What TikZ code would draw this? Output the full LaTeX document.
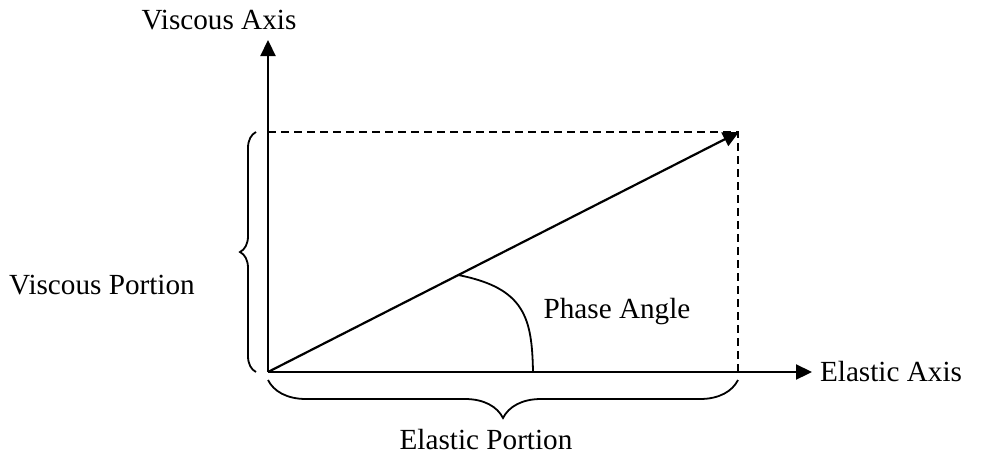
\documentclass[tikz,border=0pt]{standalone}
\usepackage{fontspec}
\setmainfont{Liberation Serif}
\usetikzlibrary{arrows.meta,decorations.pathreplacing}
\begin{document}
\begin{tikzpicture}[x=0.5pt, y=-0.5pt,
        every node/.style={font=\fontsize{14.6}{17}\selectfont, inner sep=0pt},
        axis/.style={line width=1.1pt, -{Triangle[length=8pt, width=7.5pt]}},
        guide/.style={line width=0.8pt, dash pattern=on 4pt off 2.5pt},
        portion/.style={line width=0.9pt, decorate, decoration={brace, amplitude=#1}}
    ]
        \useasboundingbox (0,0) rectangle (984,461);

        \coordinate (o)    at (268,372);
        \coordinate (ytip) at (268,40);
        \coordinate (xtip) at (812,372);
        \coordinate (v)    at (739,132);
        \coordinate (vy)   at (268,132);
        \coordinate (vx)   at (738,372);
        \coordinate (a1)   at (458,275);
        \coordinate (a2)   at (533,372);

        % axes and vector
        \draw[axis] (o) -- (ytip);
        \draw[axis] (o) -- (xtip);
        \draw[axis] (o) -- (v);
        \draw[guide] (vy) -- (738,132) -- (vx);

        % phase angle
        \draw[line width=0.9pt] (a1) .. controls (525,288) and (532,318) .. (a2);

        % braces
        \draw[portion=8pt] (256,372) -- (256,132);
        \draw[portion=19pt] (738,380) -- (268,380);

        \node (yl) at (219,20)  {Viscous Axis};
        \node (xl) at (891,372) {Elastic Axis};
        \node (vp) at (102,285) {Viscous Portion};
        \node (pa) at (617,312) {Phase Angle};
        \node (ep) at (486,440) {Elastic Portion};
\end{tikzpicture}
\end{document}
